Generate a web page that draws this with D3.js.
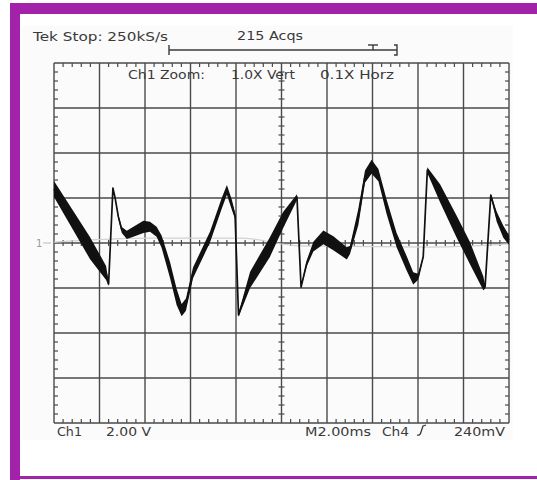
<!DOCTYPE html>
<html>
<head>
<meta charset="utf-8">
<script src="https://cdn.jsdelivr.net/npm/d3@7"></script>
<style>
  body { margin: 0; background: #fff; }
  svg { display: block; }
  text { font-family: "DejaVu Sans", sans-serif; fill: #3a3a3a; }
</style>
</head>
<body>
<div id="scope"></div>
<script>
// Ch1 trace: time (ms from left edge), volts, noise spread (+/- V)
var timeMs = [0.00, 1.58, 2.29, 2.40, 2.59, 2.68, 2.83, 2.98, 3.20, 3.49, 3.93, 4.22, 4.51, 4.73,
  5.10, 5.39, 5.61, 5.80, 6.11, 6.86, 7.38, 7.60, 7.82, 7.96, 8.11, 8.62, 9.49, 10.07, 10.68,
  10.86, 11.11, 11.40, 11.84, 12.28, 12.87, 13.01, 13.38, 13.67, 13.96, 14.26, 14.62, 15.06,
  15.50, 15.79, 16.01, 16.23, 16.41, 16.97, 17.70, 18.29, 18.87, 18.95, 19.20, 19.46, 19.75, 20.00];
var ch1Volts = [2.40, -0.22, -1.33, -1.82, 2.44, 2.04, 1.16, 0.58, 0.36, 0.50, 0.72, 0.72, 0.50, 0.06,
  -1.20, -2.39, -2.98, -2.74, -1.33, 0.27, 1.78, 2.36, 1.69, 1.20, -3.20, -1.64, -0.18, 1.02, 2.04,
  -1.96, -0.90, -0.16, 0.25, -0.01, -0.46, -0.31, 1.17, 2.95, 3.39, 3.02, 1.61, 0.13,
  -0.90, -1.57, -1.50, -0.61, 3.24, 2.21, 0.72, -0.46, -1.79, -1.94, 2.13, 1.17, 0.50, 0.13];
var ch1Spread = [0.36, 0.49, 0.31, 0.09, 0.04, 0.04, 0.09, 0.13, 0.18, 0.22, 0.27, 0.22, 0.22, 0.27,
  0.36, 0.36, 0.27, 0.27, 0.24, 0.24, 0.24, 0.22, 0.22, 0.13, 0.09, 0.36, 0.44, 0.36, 0.13,
  0.04, 0.13, 0.22, 0.31, 0.31, 0.27, 0.18, 0.36, 0.27, 0.31, 0.27, 0.32, 0.32,
  0.32, 0.27, 0.13, 0.04, 0.13, 0.40, 0.49, 0.49, 0.31, 0.09, 0.04, 0.22, 0.27, 0.22];

// faint reference trace
var refTime = [0, 4.22, 8.18, 10.81, 16.53, 20];
var refVolts = [0.04, 0.22, 0.22, -0.13, -0.18, -0.04];

var headerLabels = ["Tek Stop: 250kS/s", "215 Acqs"];
var zoomLabels = ["Ch1 Zoom:", "1.0X Vert", "0.1X Horz"];
var footerLabels = ["Ch1", "2.00 V", "M2.00ms", "Ch4", "240mV"];

var W = 537, H = 480;
var purple = "#a223a9";

var svg = d3.select("#scope").append("svg")
  .attr("width", W)
  .attr("height", H);

svg.append("rect").attr("width", W).attr("height", H).attr("fill", "#fff");
svg.append("rect").attr("x", 22).attr("y", 26).attr("width", 491).attr("height", 414).attr("fill", "#fbfbfb");

// frame
svg.append("rect").attr("x", 10).attr("y", 3).attr("width", W - 10).attr("height", 11).attr("fill", purple);
svg.append("rect").attr("x", 10).attr("y", 3).attr("width", 10).attr("height", H - 3).attr("fill", purple);
svg.append("rect").attr("x", 10).attr("y", 476).attr("width", W - 10).attr("height", 3).attr("fill", purple);

var x = d3.scaleLinear().domain([0, 20]).range([54, 509]);
var y = d3.scaleLinear().domain([-8, 8]).range([423, 63]);

var grid = svg.append("g").attr("stroke", "#4a4a4a").attr("stroke-width", 1.4);

// major divisions
grid.selectAll("line.v").data(d3.range(0, 21, 2)).enter().append("line")
  .attr("x1", function(d) { return x(d); })
  .attr("x2", function(d) { return x(d); })
  .attr("y1", y(8)).attr("y2", y(-8));
grid.selectAll("line.h").data(d3.range(-8, 9, 2)).enter().append("line")
  .attr("y1", function(d) { return y(d); })
  .attr("y2", function(d) { return y(d); })
  .attr("x1", x(0)).attr("x2", x(20));

// minor ticks, 5 per division
var minorT = d3.range(0, 20.01, 0.4).filter(function(d) { return Math.abs(d / 2 - Math.round(d / 2)) > 0.01; });
var minorV = d3.range(-8, 8.01, 0.4).filter(function(d) { return Math.abs(d / 2 - Math.round(d / 2)) > 0.01; });
var ticks = svg.append("g").attr("stroke", "#4a4a4a").attr("stroke-width", 1.2);
minorT.forEach(function(t) {
  ticks.append("line").attr("x1", x(t)).attr("x2", x(t)).attr("y1", y(8)).attr("y2", y(8) + 4);
  ticks.append("line").attr("x1", x(t)).attr("x2", x(t)).attr("y1", y(-8)).attr("y2", y(-8) - 4);
  ticks.append("line").attr("x1", x(t)).attr("x2", x(t)).attr("y1", y(0) - 3).attr("y2", y(0) + 3);
});
minorV.forEach(function(v) {
  ticks.append("line").attr("y1", y(v)).attr("y2", y(v)).attr("x1", x(0)).attr("x2", x(0) + 4);
  ticks.append("line").attr("y1", y(v)).attr("y2", y(v)).attr("x1", x(20)).attr("x2", x(20) - 4);
  ticks.append("line").attr("y1", y(v)).attr("y2", y(v)).attr("x1", x(10) - 3).attr("x2", x(10) + 3);
});

// reference trace
var refData = refTime.map(function(t, i) { return [t, refVolts[i]]; });
svg.append("path")
  .datum(refData)
  .attr("fill", "none")
  .attr("stroke", "#d2d2d2")
  .attr("stroke-width", 1.2)
  .attr("d", d3.line().x(function(d) { return x(d[0]); }).y(function(d) { return y(d[1]); }).curve(d3.curveMonotoneX));

// ch1 marker
svg.append("text").attr("x", 36).attr("y", y(0) + 4).attr("font-size", 10).style("fill", "#999").text("1");
svg.append("line").attr("x1", 43).attr("x2", 51).attr("y1", y(0)).attr("y2", y(0))
  .attr("stroke", "#bbb").attr("stroke-width", 1);

// ch1 trace
var ch1 = timeMs.map(function(t, i) { return { t: t, v: ch1Volts[i], s: ch1Spread[i] }; });
svg.append("path")
  .datum(ch1)
  .attr("fill", "#111")
  .attr("d", d3.area()
    .x(function(d) { return x(d.t); })
    .y0(function(d) { return y(d.v - d.s); })
    .y1(function(d) { return y(d.v + d.s); }));
svg.append("path")
  .datum(ch1)
  .attr("fill", "none")
  .attr("stroke", "#111")
  .attr("stroke-width", 1.7)
  .attr("stroke-linejoin", "round")
  .attr("d", d3.line().x(function(d) { return x(d.t); }).y(function(d) { return y(d.v); }));

// header readouts
function label(str, px, py, len) {
  svg.append("text")
    .attr("x", px).attr("y", py)
    .attr("font-size", 12.5)
    .attr("textLength", len)
    .attr("lengthAdjust", "spacingAndGlyphs")
    .text(str);
}
label(headerLabels[0], 33, 41, 135);
label(headerLabels[1], 237, 40, 66);
label(zoomLabels[0], 128, 79, 77);
label(zoomLabels[1], 231, 79, 64);
label(zoomLabels[2], 320, 79, 74);

// acquisition bar with trigger marker
var bar = svg.append("g").attr("stroke", "#3a3a3a").attr("stroke-width", 1.4).attr("fill", "none");
bar.append("line").attr("x1", 169).attr("x2", 397).attr("y1", 50).attr("y2", 50);
bar.append("line").attr("x1", 169).attr("x2", 169).attr("y1", 45).attr("y2", 55);
bar.append("path").attr("d", "M394,45 L397,45 L397,55 L394,55");
bar.append("line").attr("x1", 368).attr("x2", 378).attr("y1", 45).attr("y2", 45);
bar.append("line").attr("x1", 373).attr("x2", 373).attr("y1", 45).attr("y2", 50);

// footer readouts
label(footerLabels[0], 57, 436, 25);
label(footerLabels[1], 106, 436, 45);
label(footerLabels[2], 305, 436, 66);
label(footerLabels[3], 382, 436, 27);
label(footerLabels[4], 454, 436, 51);
svg.append("path")
  .attr("d", "M417,435 Q420,436 421,432 L423,426 L426,425")
  .attr("fill", "none").attr("stroke", "#3a3a3a").attr("stroke-width", 1.3);
</script>
</body>
</html>
